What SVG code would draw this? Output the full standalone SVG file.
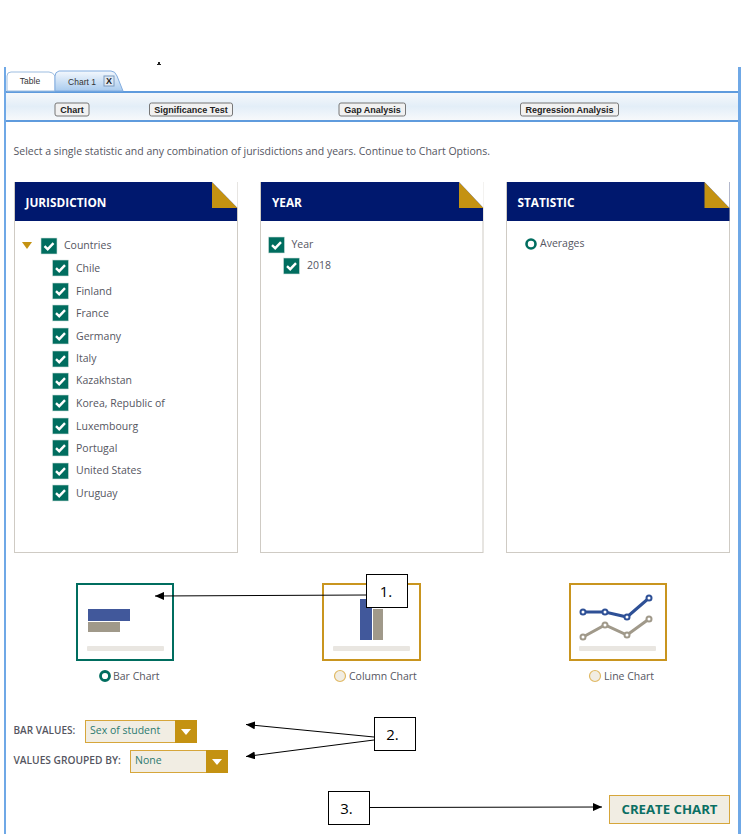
<svg xmlns="http://www.w3.org/2000/svg" width="746" height="834" viewBox="0 0 746 834">
<style>
text{font-family:"Open Sans","Noto Sans",sans-serif}
.t{font-size:10.5px;fill:#55565f}
.h{font-size:11.800px;font-weight:700;fill:#fff}
.b{font-family:"Liberation Sans",Arial,sans-serif;font-size:9px;font-weight:700;fill:#222;text-anchor:middle}
.btn{fill:#f1f1f1;stroke:#777;stroke-width:1}
.panel{fill:#fff;stroke:#cfcbc4;stroke-width:1}
.navy{fill:#00186e}
.gold{fill:#c49212}
.cb{fill:#006d5f;stroke:#cfe0dc;stroke-width:.6}
.ck{fill:none;stroke:#fff;stroke-width:2.4}
.frame{fill:#fff;stroke-width:2}
.bar{fill:#e9e6e1}
.cl{fill:none;stroke-width:3}
.pt{fill:#fff;stroke-width:2}
.call{fill:#fff;stroke:#000;stroke-width:1}
.cn{font-size:15px;fill:#000;text-anchor:middle}
.conn{fill:none;stroke:#000;stroke-width:1;marker-end:url(#ah)}
</style>
<defs>
<marker id="ah" markerUnits="userSpaceOnUse" markerWidth="10" markerHeight="8" refX="9" refY="4" orient="auto"><path d="M0 0L9 4L0 8z" fill="#000"/></marker>
<linearGradient id="tab" x1="0" y1="0" x2="0" y2="1"><stop offset="0" stop-color="#f4f8fd"/><stop offset="1" stop-color="#a9cbee"/></linearGradient>
<linearGradient id="tb" x1="0" y1="0" x2="0" y2="1"><stop offset="0" stop-color="#f5f8fb"/><stop offset=".5" stop-color="#e3eef8"/><stop offset="1" stop-color="#f7f9fb"/></linearGradient>
<path id="c" class="ck" d="M-4.500 0.200L-1.300 3.200L4.500 -2.800"/>
</defs>
<rect width="746" height="834" fill="#fff"/>
<path d="M158 62H160V64H161V65H157V64H158z" fill="#222"/>
<g id="shell">
<rect x="4" y="67" width="2" height="767" fill="#6fa8e6"/>
<rect x="738" y="67" width="3" height="767" fill="#6fa8e6"/>
<rect x="6" y="93" width="732" height="27" fill="url(#tb)"/>
<rect x="6" y="91" width="732" height="2" fill="#5f9bdd"/>
<rect x="6" y="120" width="732" height="2" fill="#5f9bdd"/>
</g>
<g id="tabs">
<path d="M7 91V76Q7 72 11 72H49Q53 72 55 76V91z" fill="#fff" stroke="#9dbde0"/>
<path d="M55 91V76Q55 72 59 71H111Q115 71 117 76L123 91z" fill="url(#tab)" stroke="#82ade0"/>
<text x="30" y="84" font-size="8.500" fill="#333" text-anchor="middle" style="font-family:'Liberation Sans',Arial,sans-serif">Table</text>
<text x="82" y="85" font-size="8.500" fill="#333" text-anchor="middle" style="font-family:'Liberation Sans',Arial,sans-serif">Chart 1</text>
<rect x="104" y="76" width="10" height="10" fill="#dfe8f2" stroke="#7d9cc0"/>
<text x="109" y="84" class="b" font-size="8">X</text>
</g>
<g id="buttons">
<rect class="btn" x="55" y="103" width="34" height="13" rx="2"/><text class="b" x="72" y="113">Chart</text>
<rect class="btn" x="149.500" y="103" width="83" height="13" rx="2"/><text class="b" x="191" y="113">Significance Test</text>
<rect class="btn" x="339" y="103" width="66.500" height="13" rx="2"/><text class="b" x="372.500" y="113">Gap Analysis</text>
<rect class="btn" x="520.500" y="103" width="98" height="13" rx="2"/><text class="b" x="569.500" y="113">Regression Analysis</text>
</g>
<text class="t" x="13.500" y="155">Select a single statistic and any combination of jurisdictions and years. Continue to Chart Options.</text>
<g id="jurisdiction">
<rect class="panel" x="14.500" y="182.500" width="223" height="370"/>
<rect class="navy" x="15" y="182" width="222" height="39"/>
<path class="gold" d="M212 182L237.500 208H212z"/>
<path d="M212 182H237.500V208z" fill="#fff"/>
<text class="h" x="25.500" y="206.500">JURISDICTION</text>
<path class="gold" d="M22 242H32L27 249z"/>
<rect class="cb" x="41" y="238" width="16" height="16"/><use href="#c" x="49" y="246"/>
<text class="t" x="64" y="249">Countries</text>
<g id="j-items">
<rect class="cb" x="52.500" y="260" width="16" height="16"/><use href="#c" x="60.500" y="268"/><text class="t" x="76" y="272">Chile</text>
<rect class="cb" x="52.500" y="283" width="16" height="16"/><use href="#c" x="60.500" y="291"/><text class="t" x="76" y="295">Finland</text>
<rect class="cb" x="52.500" y="305" width="16" height="16"/><use href="#c" x="60.500" y="313"/><text class="t" x="76" y="317">France</text>
<rect class="cb" x="52.500" y="328" width="16" height="16"/><use href="#c" x="60.500" y="336"/><text class="t" x="76" y="340">Germany</text>
<rect class="cb" x="52.500" y="351" width="16" height="16"/><use href="#c" x="60.500" y="359"/><text class="t" x="76" y="362">Italy</text>
<rect class="cb" x="52.500" y="373" width="16" height="16"/><use href="#c" x="60.500" y="381"/><text class="t" x="76" y="384">Kazakhstan</text>
<rect class="cb" x="52.500" y="395" width="16" height="16"/><use href="#c" x="60.500" y="403"/><text class="t" x="76" y="407">Korea, Republic of</text>
<rect class="cb" x="52.500" y="418" width="16" height="16"/><use href="#c" x="60.500" y="426"/><text class="t" x="76" y="430">Luxembourg</text>
<rect class="cb" x="52.500" y="440" width="16" height="16"/><use href="#c" x="60.500" y="448"/><text class="t" x="76" y="452">Portugal</text>
<rect class="cb" x="52.500" y="463" width="16" height="16"/><use href="#c" x="60.500" y="471"/><text class="t" x="76" y="474">United States</text>
<rect class="cb" x="52.500" y="485" width="16" height="16"/><use href="#c" x="60.500" y="493"/><text class="t" x="76" y="497">Uruguay</text>
</g>
</g>
<g id="year">
<rect class="panel" x="260.500" y="182.500" width="222.500" height="370"/>
<rect class="navy" x="261" y="182" width="222" height="39"/>
<path class="gold" d="M459 182L483.500 208H459z"/>
<path d="M459 182H483.500V208z" fill="#fff"/>
<text class="h" x="272" y="206.500">YEAR</text>
<rect class="cb" x="268.500" y="237" width="16" height="16"/><use href="#c" x="276.500" y="245"/>
<text class="t" x="291.500" y="248">Year</text>
<rect class="cb" x="283.500" y="258" width="16" height="16"/><use href="#c" x="291.500" y="266"/>
<text class="t" x="307" y="269">2018</text>
</g>
<g id="statistic">
<rect class="panel" x="506.500" y="182.500" width="223" height="370"/>
<rect class="navy" x="507" y="182" width="222.500" height="39"/>
<path class="gold" d="M704.500 182L729.500 208H704.500z"/>
<path d="M704.500 182H729.500V208z" fill="#fff"/>
<text class="h" x="517.500" y="206.500">STATISTIC</text>
<circle cx="531" cy="244" r="4.500" fill="#fff" stroke="#006d5f" stroke-width="2.600"/>
<text class="t" x="540" y="247">Averages</text>
</g>
<g id="bar-chart">
<rect class="frame" x="77" y="584" width="96" height="76" stroke="#006d5f"/>
<rect x="88" y="609" width="42" height="12" fill="#41589b"/>
<rect x="88" y="622" width="32" height="10" fill="#a0998a"/>
<rect class="bar" x="87" y="646" width="77" height="5" rx="1"/>
<circle cx="105" cy="676" r="4.500" fill="#fff" stroke="#006d5f" stroke-width="2.800"/>
<text class="t" x="113" y="679.500">Bar Chart</text>
</g>
<g id="column-chart">
<rect class="frame" x="323" y="584" width="97" height="76" stroke="#c9951f"/>
<rect x="360" y="599" width="12" height="41" fill="#41589b"/>
<rect x="373" y="609" width="10" height="31" fill="#a0998a"/>
<rect class="bar" x="333" y="646" width="77" height="5" rx="1"/>
<circle cx="340" cy="676" r="5.500" fill="#f1ede3" stroke="#e0b964" stroke-width="1.200"/>
<text class="t" x="349" y="679.500">Column Chart</text>
</g>
<g id="line-chart">
<rect class="frame" x="570" y="584" width="96" height="76" stroke="#c9951f"/>
<rect class="bar" x="579" y="646" width="77" height="5" rx="1"/>
<polyline class="cl" stroke="#2e5096" points="583,612 605,612 627,617 649,598"/>
<polyline class="cl" stroke="#a0998a" points="583,637 605,625 627,635 649,619"/>
<g stroke="#2e5096"><circle class="pt" cx="583" cy="612" r="2.500"/><circle class="pt" cx="605" cy="612" r="2.500"/><circle class="pt" cx="627" cy="617" r="2.500"/><circle class="pt" cx="649" cy="598" r="2.500"/></g>
<g stroke="#a0998a"><circle class="pt" cx="583" cy="637" r="2.500"/><circle class="pt" cx="605" cy="625" r="2.500"/><circle class="pt" cx="627" cy="635" r="2.500"/><circle class="pt" cx="649" cy="619" r="2.500"/></g>
<circle cx="595" cy="676" r="5.500" fill="#f1ede3" stroke="#e0b964" stroke-width="1.200"/>
<text class="t" x="604" y="679.500">Line Chart</text>
</g>
<g id="bar-values">
<text class="t" x="13.500" y="734" font-weight="600" style="font-size:10px">BAR VALUES:</text>
<rect x="85.500" y="720.500" width="111" height="22" fill="#f1ede3" stroke="#d6a63b"/>
<rect class="gold" x="175" y="720" width="22" height="23"/>
<path d="M181 729H191L186 735z" fill="#fff"/>
<text x="90" y="734" font-size="10.500" fill="#2c7a70">Sex of student</text>
</g>
<g id="values-grouped">
<text class="t" x="13.500" y="764" font-weight="600" style="font-size:10.200px">VALUES GROUPED BY:</text>
<rect x="130.500" y="750.500" width="97" height="22" fill="#f1ede3" stroke="#d6a63b"/>
<rect class="gold" x="206" y="750" width="22" height="23"/>
<path d="M212 759H222L217 765z" fill="#fff"/>
<text x="135" y="764" font-size="10.500" fill="#2c7a70">None</text>
</g>
<g id="create-chart">
<rect x="609.500" y="795.500" width="120" height="28" fill="#f1ede3" stroke="#d6a63b"/>
<text x="669.500" y="814" font-size="13.200" font-weight="700" fill="#0b6f63" text-anchor="middle">CREATE CHART</text>
</g>
<g id="connectors">
<line class="conn" x1="366" y1="595" x2="155" y2="596"/>
<line class="conn" x1="374" y1="737" x2="246" y2="724.500"/>
<line class="conn" x1="374" y1="740" x2="246" y2="756.500"/>
<line class="conn" x1="369" y1="807.500" x2="602" y2="807"/>
</g>
<g id="callout-1"><rect class="call" x="366.500" y="574.500" width="41" height="33"/><text class="cn" x="386" y="596.500">1.</text></g>
<g id="callout-2"><rect class="call" x="374.500" y="717.500" width="41" height="33"/><text class="cn" x="392.500" y="739.500">2.</text></g>
<g id="callout-3"><rect class="call" x="328.500" y="791.500" width="41" height="33"/><text class="cn" x="346.500" y="813.500">3.</text></g>
</svg>
